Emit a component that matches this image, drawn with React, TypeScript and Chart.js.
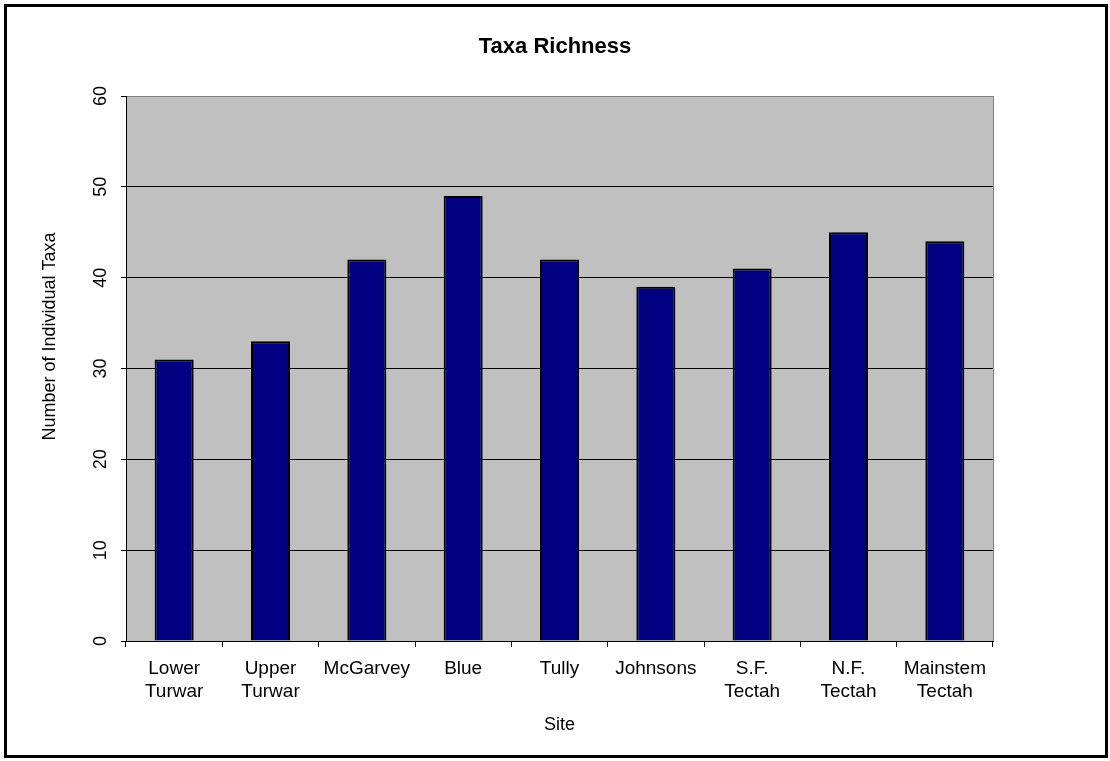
import React, { useEffect, useRef } from 'react';
import { Chart, registerables } from 'chart.js';

Chart.register(...registerables);

// ---- data ----
const siteLabels: string[][] = [
  ['Lower', 'Turwar'],
  ['Upper', 'Turwar'],
  ['McGarvey'],
  ['Blue'],
  ['Tully'],
  ['Johnsons'],
  ['S.F.', 'Tectah'],
  ['N.F.', 'Tectah'],
  ['Mainstem', 'Tectah'],
];
const taxaCounts: number[] = [31, 33, 42, 49, 42, 39, 41, 45, 44];
const yTickValues: number[] = [0, 10, 20, 30, 40, 50, 60];
const chartTitle = 'Taxa Richness';
const xAxisTitle = 'Site';
const yAxisTitle = 'Number of Individual Taxa';

const FONT = '"Liberation Sans", Arial, Helvetica, sans-serif';

const framePlugin = {
  id: 'frame',
  beforeDraw(chart: any) {
    const { ctx, chartArea: a, width, height } = chart;
    ctx.save();
    ctx.fillStyle = '#ffffff';
    ctx.fillRect(0, 0, width, height);
    ctx.fillStyle = '#C0C0C0';
    ctx.fillRect(a.left, a.top, a.right - a.left, a.bottom - a.top);
    ctx.restore();
  },
  beforeDatasetsDraw(chart: any) {
    const { ctx, chartArea: a } = chart;
    ctx.save();
    ctx.strokeStyle = '#808080';
    ctx.lineWidth = 1;
    ctx.beginPath();
    ctx.moveTo(Math.round(a.right) + 0.5, a.top);
    ctx.lineTo(Math.round(a.right) + 0.5, a.bottom);
    ctx.stroke();
    ctx.restore();
  },
  afterDraw(chart: any) {
    const { ctx, chartArea: a } = chart;
    ctx.save();
    // outer chart border
    ctx.strokeStyle = '#000';
    ctx.lineWidth = 3;
    ctx.strokeRect(5.5, 5.5, 1101, 751);
    // y axis title
    ctx.fillStyle = '#000';
    ctx.font = `18px ${FONT}`;
    ctx.textAlign = 'center';
    ctx.textBaseline = 'middle';
    ctx.translate(50, (a.top + a.bottom) / 2 - 32);
    ctx.rotate(-Math.PI / 2);
    ctx.fillText(yAxisTitle, 0, 0);
    ctx.restore();
  },
};

export default function App() {
  const canvasRef = useRef<HTMLCanvasElement | null>(null);

  useEffect(() => {
    if (!canvasRef.current) return;
    const chart = new Chart(canvasRef.current, {
      type: 'bar',
      data: {
        labels: siteLabels,
        datasets: [
          {
            label: 'Taxa',
            data: taxaCounts,
            backgroundColor: '#000080',
            borderColor: '#000000',
            borderWidth: 2,
            barPercentage: 0.405,
            categoryPercentage: 1,
          },
        ],
      },
      options: {
        responsive: false,
        animation: false,
        devicePixelRatio: 1,
        layout: { padding: { left: 0, right: 0, top: 0, bottom: 0 } },
        plugins: {
          legend: { display: false },
          tooltip: { enabled: false },
          title: {
            display: true,
            text: chartTitle,
            color: '#000',
            font: { size: 22, weight: 'bold', family: FONT, lineHeight: 1.2 },
            padding: { top: 34, bottom: 35.6 },
          },
        },
        scales: {
          x: {
            offset: true,
            grid: {
              offset: true,
              drawOnChartArea: false,
              drawTicks: true,
              tickLength: 6,
              color: '#000',
              tickColor: '#000',
            },
            border: { color: '#000', width: 1 },
            ticks: {
              color: '#000',
              font: { size: 19, family: FONT, lineHeight: 1.21 },
              padding: 10,
              maxRotation: 0,
              minRotation: 0,
              autoSkip: false,
            },
            title: {
              display: true,
              text: xAxisTitle,
              color: '#000',
              font: { size: 18, family: FONT, lineHeight: 1.2 },
              padding: { top: 0, bottom: 25.3 },
            },
            afterFit: (s: any) => {
              s.height = 120;
            },
          },
          y: {
            min: 0,
            max: 60,
            afterBuildTicks: (s: any) => {
              s.ticks = yTickValues.map((v) => ({ value: v }));
            },
            grid: {
              color: (c: any) => (c.tick && c.tick.value === 60 ? '#808080' : '#000'),
              tickColor: '#000',
              tickLength: 5,
              drawTicks: true,
            },
            border: { color: '#000', width: 1 },
            ticks: {
              color: '#000',
              font: { size: 18, family: FONT },
              minRotation: 90,
              maxRotation: 90,
              crossAlign: 'center',
              padding: 9.5,
            },
            afterFit: (s: any) => {
              s.width = 126;
            },
          },
          yRight: {
            type: 'linear',
            position: 'right',
            display: true,
            grid: { display: false, drawTicks: false },
            border: { display: false },
            ticks: { display: false },
            afterFit: (s: any) => {
              s.width = 1110 - 993;
            },
          },
        },
      } as any,
      plugins: [framePlugin],
    });
    return () => chart.destroy();
  }, []);

  return (
    <div style={{ position: 'absolute', left: 0, top: 0, width: 1110, height: 761 }}>
      <canvas ref={canvasRef} width={1110} height={761} style={{ display: 'block' }} />
    </div>
  );
}
